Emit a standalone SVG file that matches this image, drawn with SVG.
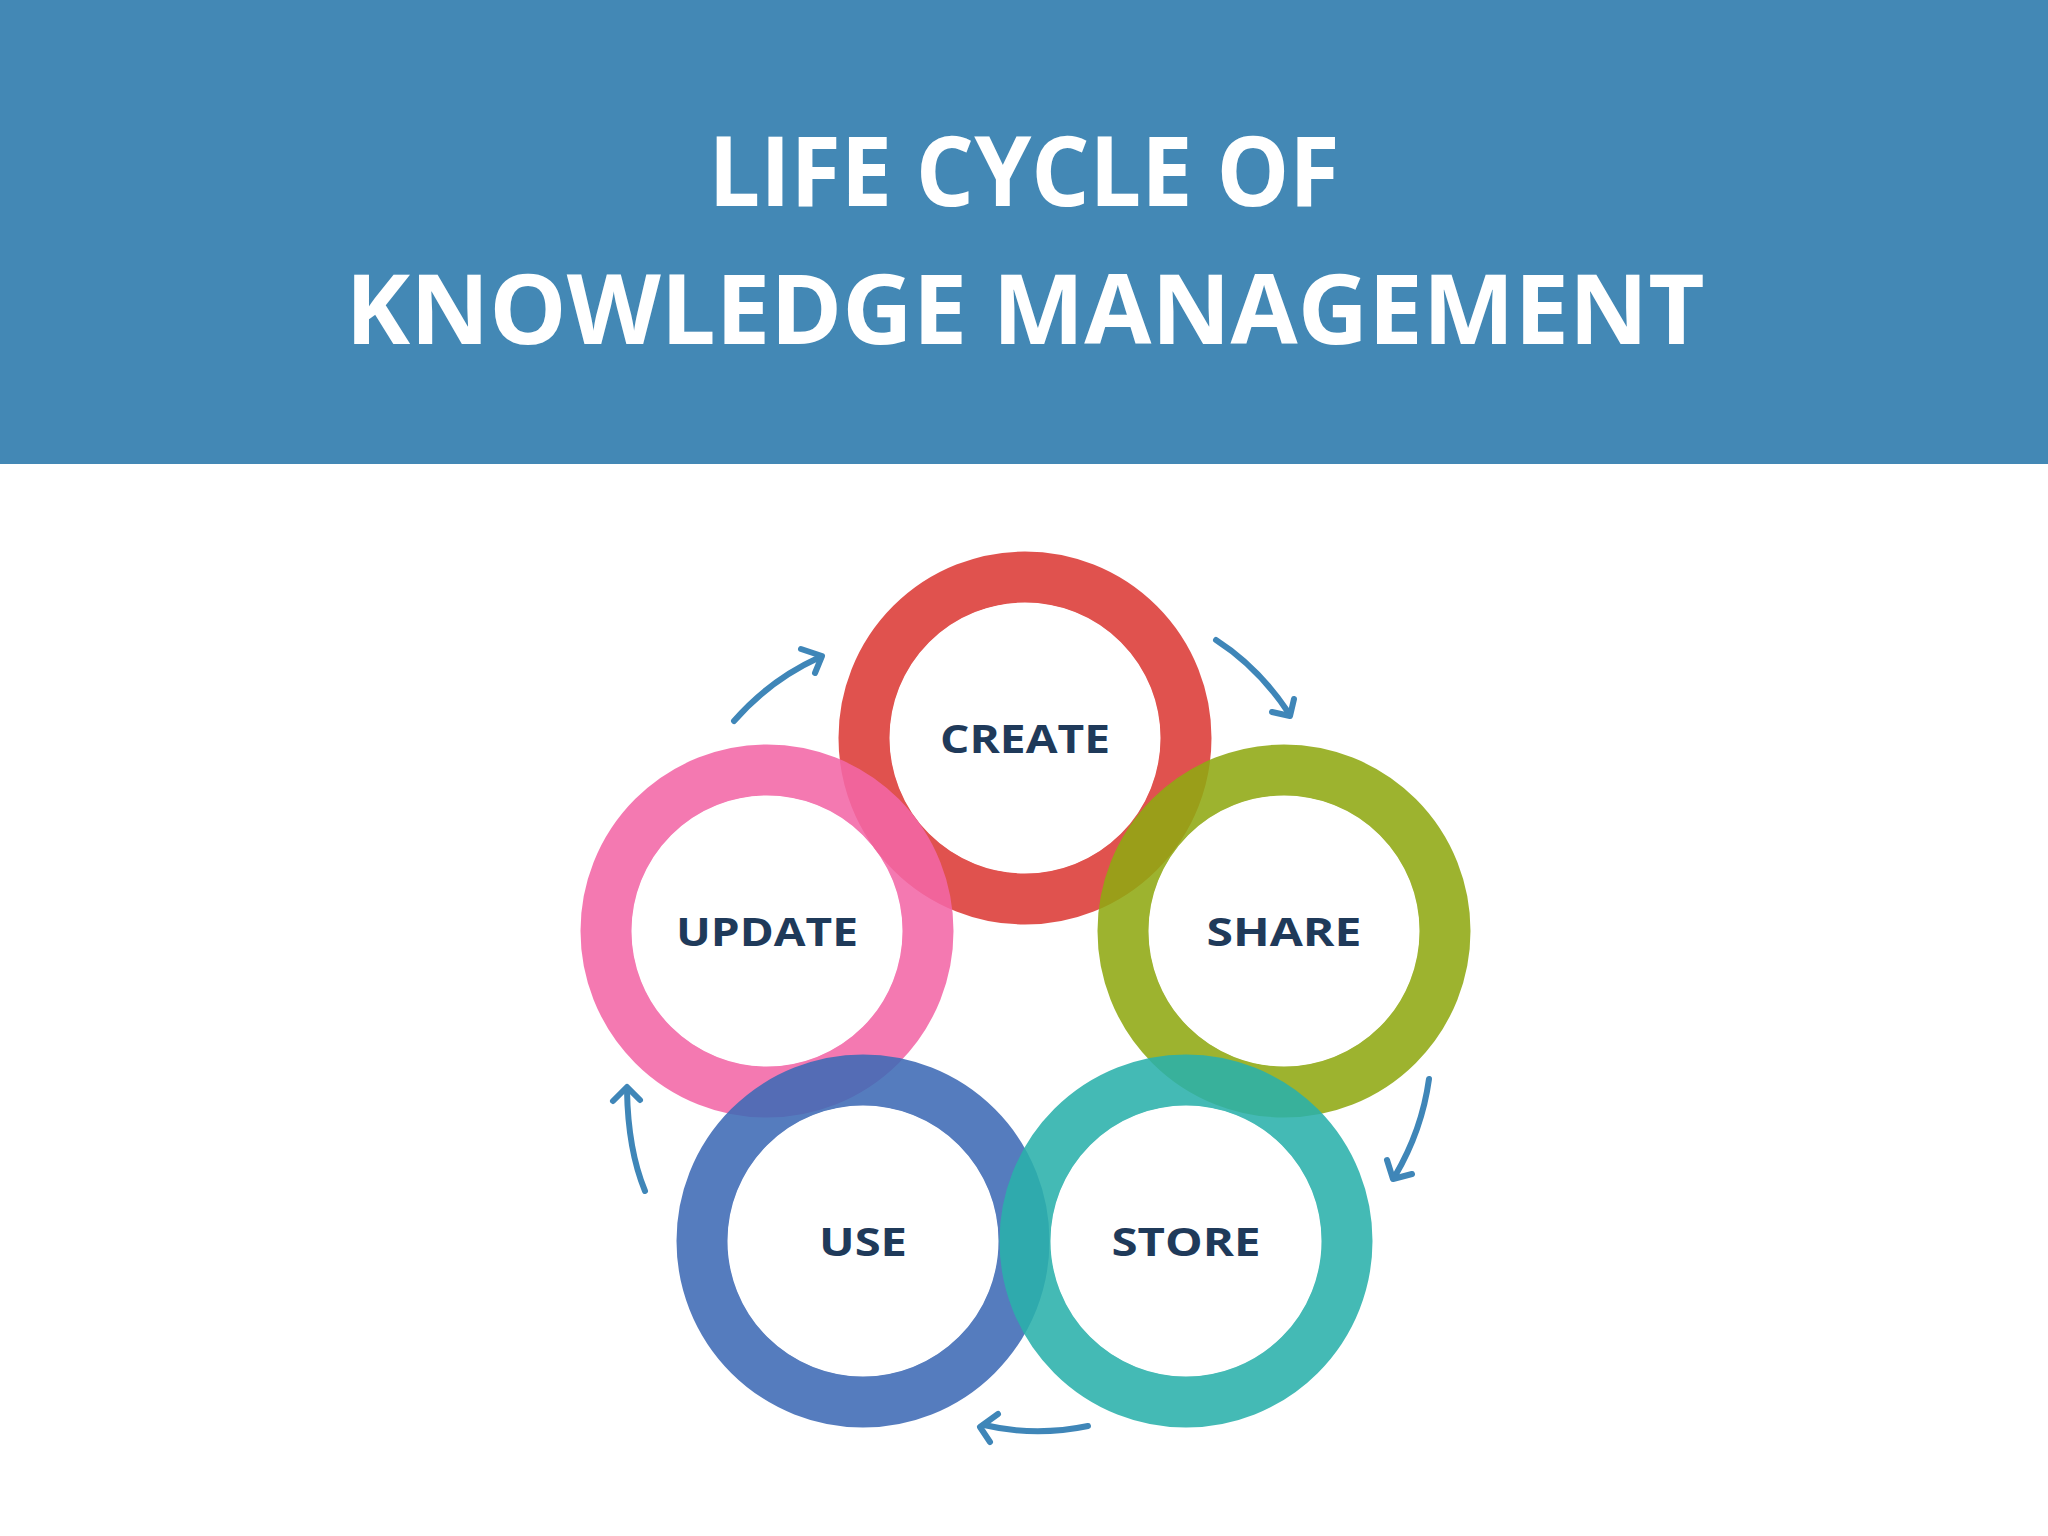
<svg xmlns="http://www.w3.org/2000/svg" width="2048" height="1536" viewBox="0 0 2048 1536">
<style>
.title{font-family:"Open Sans","Noto Sans",sans-serif;font-weight:bold;fill:#fff;font-size:96px;text-anchor:middle}
.lbl{font-family:"Open Sans","Noto Sans",sans-serif;font-weight:bold;fill:#1f3a5a;font-size:40px;text-anchor:middle}
.ring{fill:none;stroke-width:51;opacity:0.88}
.arr{fill:none;stroke:#3f86b8;stroke-width:6;stroke-linecap:round;stroke-linejoin:round}
</style>
<rect width="2048" height="1536" fill="#fff"/>
<rect width="2048" height="464" fill="#4388b5"/>
<text class="title" x="1024" y="206" textLength="631" lengthAdjust="spacingAndGlyphs">LIFE CYCLE OF</text>
<text class="title" x="1025" y="344" textLength="1359" lengthAdjust="spacingAndGlyphs">KNOWLEDGE MANAGEMENT</text>
<g id="rings">
<circle class="ring" cx="1025" cy="738" r="161" stroke="#dc3a35"/>
<circle class="ring" cx="1284" cy="931" r="161" stroke="#8fa812"/>
<circle class="ring" cx="767" cy="931" r="161" stroke="#f266a6"/>
<circle class="ring" cx="863" cy="1241" r="161" stroke="#3d6ab5"/>
<circle class="ring" cx="1186" cy="1241" r="161" stroke="#2ab0ab"/>
</g>
<g id="create"><circle cx="1025" cy="738" r="135" fill="#fff"/><text class="lbl" x="1025" y="753" textLength="170" lengthAdjust="spacingAndGlyphs">CREATE</text></g>
<g id="share"><circle cx="1284" cy="931" r="135" fill="#fff"/><text class="lbl" x="1284" y="946" textLength="155" lengthAdjust="spacingAndGlyphs">SHARE</text></g>
<g id="update"><circle cx="767" cy="931" r="135" fill="#fff"/><text class="lbl" x="767" y="946" textLength="182" lengthAdjust="spacingAndGlyphs">UPDATE</text></g>
<g id="use"><circle cx="863" cy="1241" r="135" fill="#fff"/><text class="lbl" x="863" y="1256" textLength="88" lengthAdjust="spacingAndGlyphs">USE</text></g>
<g id="store"><circle cx="1186" cy="1241" r="135" fill="#fff"/><text class="lbl" x="1186" y="1256" textLength="149" lengthAdjust="spacingAndGlyphs">STORE</text></g>
<g id="connectors">
<path class="arr" d="M734 721 Q770 680 818 658"/><path class="arr" d="M801 649 L822 656 L815 673"/>
<path class="arr" d="M1216 640 Q1258 667 1288 712"/><path class="arr" d="M1272 712 L1290 716 L1294 699"/>
<path class="arr" d="M1429 1079 Q1422 1130 1395 1176"/><path class="arr" d="M1387 1160 L1393 1179 L1412 1174"/>
<path class="arr" d="M1088 1426 Q1035 1437 984 1425"/><path class="arr" d="M998 1414 L980 1427 L990 1442"/>
<path class="arr" d="M645 1191 Q628 1150 627 1090"/><path class="arr" d="M613 1101 L627 1087 L640 1100"/>
</g>
</svg>
